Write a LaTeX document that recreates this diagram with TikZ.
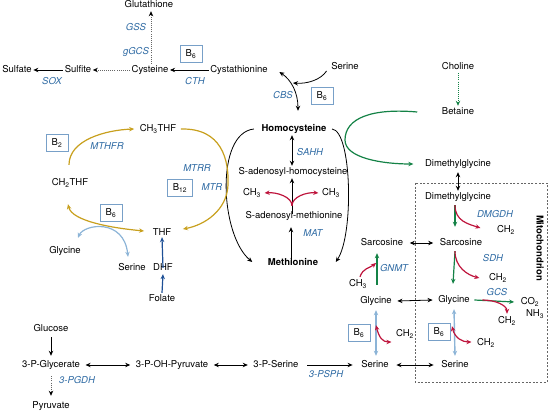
\documentclass[tikz,border=0pt]{standalone}
\usepackage{fontspec}
\setmainfont{TeX Gyre Heros}
\usetikzlibrary{arrows.meta}
\definecolor{enzc}{RGB}{46,106,163}
\definecolor{boxc}{RGB}{120,160,200}
\definecolor{goldc}{RGB}{200,160,30}
\definecolor{redc}{RGB}{190,20,60}
\definecolor{greenc}{RGB}{20,130,70}
\definecolor{lbluec}{RGB}{140,180,215}
\definecolor{dbluec}{RGB}{30,80,150}
\begin{document}
\begin{tikzpicture}[x=1pt,y=-1pt,
  every node/.style={font=\fontsize{9.5}{11}\selectfont, inner sep=1.5pt, text height=7pt, text depth=2pt},
  enz/.style={font=\fontsize{9.5}{11}\selectfont\itshape, text=enzc},
  bld/.style={font=\fontsize{9.5}{11}\selectfont\bfseries},
  bbox/.style={draw=boxc, line width=0.8pt, minimum width=22pt, minimum height=17pt, inner sep=0pt},
  arr/.style={-{Stealth[length=5pt,width=4.4pt]}, line width=0.8pt},
  darr/.style={{Stealth[length=5pt,width=4.4pt]}-{Stealth[length=5pt,width=4.4pt]}, line width=0.8pt},
  dotarr/.style={-{Stealth[length=5pt,width=4.4pt,color=black,line width=0.8pt]}, line width=0.8pt, draw=black!60, dash pattern=on 0.8pt off 1.3pt},
  col/.style={line width=1.2pt}
]
\useasboundingbox (0,0) rectangle (550,412);

% ---------- top left ----------
\node (glut) at (149,5) {Glutathione};
\node[enz] (gss) at (136,28) {GSS};
\node[enz] (ggcs) at (136,52) {gGCS};
\node (sulfate) at (17,70) {Sulfate};
\node (sulfite) at (78,70) {Sulfite};
\node[enz] (sox) at (52,82) {SOX};
\node (cys) at (150,70) {Cysteine};
\node[bbox] (b6a) at (191,54) {B\textsubscript{6}};
\node[enz] (cth) at (195,82) {CTH};
\node (cysta) at (239,70) {Cystathionine};
\node (sertop) at (345,67) {Serine};
\node[enz] (cbs) at (283,96) {CBS};
\node[bbox] (b6b) at (322,96) {B\textsubscript{6}};
\node[bld] (hcy) at (294,129) {Homocysteine};
\coordinate (cbsj) at (293,83);

\draw[dotarr] ([xshift=1pt]cys.north) -- ([xshift=2pt]glut.south);
\draw[arr] (sulfite.west) -- (sulfate.east);
\draw[dotarr] (cys.west) -- (sulfite.east);
\draw[arr] (cysta.west) -- (cys.east);
\draw[darr] ([xshift=10pt,yshift=-2pt]cysta.east) .. controls +(12,8) and +(0,-18) .. ([xshift=4pt,yshift=12pt]hcy.north);
\draw[arr] ([xshift=-3pt,yshift=-4pt]sertop.west) .. controls +(-6,9) and +(14,1) .. (cbsj);

% ---------- choline / betaine ----------
\node (choline) at (458,67) {Choline};
\node (betaine) at (458,112) {Betaine};
\node (dmg1) at (458,164) {Dimethylglycine};
\draw[dotarr,draw=greenc,-{Stealth[length=5pt,width=4.4pt,color=greenc]}] (choline.south) -- (betaine.north);
\draw[arr,greenc,col] ([xshift=-23pt]betaine.west) .. controls (372,108) and (345,118) .. (345,140)
  .. controls (345,158) and (382,164) .. ([xshift=-10pt]dmg1.west);

% ---------- methionine cycle ----------
\node[enz] (sahh) at (310,153) {SAHH};
\node (sah) at (293,172) {S-adenosyl-homocysteine};
\node (ch3l) at (252,193) {CH\textsubscript{3}};
\node (ch3r) at (331,193) {CH\textsubscript{3}};
\node (sam) at (294,216) {S-adenosyl-methionine};
\node[enz] (mat) at (313,234) {MAT};
\node[bld] (met) at (293,263) {Methionine};

\draw[darr] ([xshift=-2pt]hcy.south) -- ([xshift=-1pt]sah.north);
\draw[arr] ([xshift=-2pt,yshift=-4pt]sam.north) -- ([xshift=-1pt]sah.south);
\draw[arr,redc,col] ([xshift=-2pt,yshift=4pt]sam.north) .. controls +(0,-9) and +(12,-1) .. ([xshift=2pt]ch3l.east);
\draw[arr,redc,col] ([xshift=-2pt,yshift=4pt]sam.north) .. controls +(0,-9) and +(-12,-1) .. ([xshift=-2pt]ch3r.west);
\draw[arr] ([xshift=-2pt,yshift=-6pt]met.north) -- ([xshift=-3pt,yshift=-5pt]sam.south);
\draw[arr] ([xshift=-6pt]hcy.west) .. controls (215,133) and (220,235) .. ([xshift=-14pt,yshift=1pt]met.west);
\draw[arr] ([xshift=4pt]hcy.east) .. controls (352,131) and (354,235) .. ([xshift=16pt,yshift=1pt]met.east);

% ---------- folate cycle ----------
\node (ch3thf) at (158,129) {CH\textsubscript{3}THF};
\node[bbox] (b2) at (57,143) {B\textsubscript{2}};
\node[enz] (mthfr) at (107,147) {MTHFR};
\node (ch2thf) at (70,183) {CH\textsubscript{2}THF};
\node[enz] (mtrr) at (197,169) {MTRR};
\node[bbox, minimum width=25pt] (b12) at (180,188) {B\textsubscript{12}};
\node[enz] (mtr) at (212,188) {MTR};
\node[bbox] (b6c) at (111,213) {B\textsubscript{6}};
\node (thf) at (162,233) {THF};
\node (glyl) at (65,251) {Glycine};
\node (serl) at (132,268) {Serine};
\node (dhf) at (163,268) {DHF};
\node (folate) at (162,299) {Folate};

\draw[arr,goldc,col] ([xshift=-1pt,yshift=12pt]ch2thf.north) .. controls +(0,-25) and +(-28,1) .. ([xshift=-4pt]ch3thf.west);
\draw[arr,goldc,col] ([xshift=3pt]ch3thf.east) .. controls (222,128) and (229,160) .. (228,185)
  .. controls (227,210) and (205,225) .. ([xshift=10pt,yshift=4pt]thf.east);
\draw[darr,goldc,col] ([xshift=-2pt,yshift=-15pt]ch2thf.south) .. controls +(4,17) and +(-32,-3) .. ([xshift=-7pt,yshift=2pt]thf.west);
\draw[darr,lbluec,col] ([xshift=13pt,yshift=7pt]glyl.north) .. controls (84,224) and (124,218) .. ([xshift=-4pt,yshift=5pt]serl.north);
\draw[arr,dbluec,col] ([yshift=-6pt]dhf.north) -- ([yshift=2pt]thf.south);
\draw[arr,dbluec,col] (folate.north) -- (dhf.south);

% ---------- mitochondrion ----------
\draw[gray!80!black, line width=0.8pt, dash pattern=on 2pt off 1.6pt] (415,183) rectangle (547,382);
\node[bld, rotate=-90] (mito) at (539,248) {Mitochondrion};

\node (dmg2) at (458,197) {Dimethylglycine};
\node[enz] (dmgdh) at (495,215) {DMGDH};
\node (ch2a) at (506,230) {CH\textsubscript{2}};
\node (sarcin) at (461,243) {Sarcosine};
\node (sarcout) at (382,243) {Sarcosine};
\node[enz] (sdh) at (493,259) {SDH};
\node (ch2b) at (498,278) {CH\textsubscript{2}};
\node[enz] (gnmt) at (394,269) {GNMT};
\node (ch3g) at (358,284) {CH\textsubscript{3}};
\node (glyout) at (376,301) {Glycine};
\node (glyin) at (454,300) {Glycine};
\node[enz] (gcs) at (497,293) {GCS};
\node (co2) at (530,302) {CO\textsubscript{2}};
\node (nh3) at (535,314) {NH\textsubscript{3}};
\node (ch2c) at (507,321) {CH\textsubscript{2}};
\node[bbox] (b6d) at (359,333) {B\textsubscript{6}};
\node[bbox] (b6e) at (439,332) {B\textsubscript{6}};
\node (ch2d) at (405,334) {CH\textsubscript{2}};
\node (ch2e) at (486,343) {CH\textsubscript{2}};
\node (serout) at (375,365) {Serine};
\node (serin) at (455,365) {Serine};
\coordinate (gnmtj) at (376,263);

\draw[darr] ([yshift=-2pt]dmg1.south) -- (dmg2.north);
\draw[arr,greenc,col] ([xshift=-3pt,yshift=-2pt]dmg2.south) -- ([xshift=-6pt,yshift=10pt]sarcin.north);
\draw[arr,redc,col] ([xshift=-3pt,yshift=-2pt]dmg2.south) .. controls +(0,16) and +(-12,-4) .. ([xshift=-15pt,yshift=2pt]ch2a.west);
\draw[arr,greenc,col] ([xshift=-6pt,yshift=-2pt]sarcin.south) -- ([xshift=-1pt,yshift=10pt]glyin.north);
\draw[arr,redc,col] ([xshift=-6pt,yshift=-2pt]sarcin.south) .. controls +(0,16) and +(-12,-3) .. ([xshift=-8pt,yshift=0pt]ch2b.west);
\draw[darr] ([xshift=5pt]sarcout.east) -- ([xshift=-5pt]sarcin.west);
\draw[darr] ([xshift=4pt]glyout.east) -- ([xshift=-4pt]glyin.west);
\draw[arr,greenc,col] ([xshift=3pt]glyin.east) -- ([xshift=-5pt]co2.west);
\draw[arr,redc,col] ([xshift=11pt]glyin.east) .. controls +(14,0) and +(0,-8) .. ([yshift=1pt]ch2c.north);
\draw[arr,greenc,col] ([xshift=1pt,yshift=10pt]glyout.north) -- ([xshift=-5pt,yshift=-4pt]sarcout.south);
\draw[arr,redc,col] ([xshift=2pt,yshift=1pt]ch3g.north) .. controls +(3,-9) and +(-6,5) .. (gnmtj);

\draw[darr,lbluec,line width=1.4pt] ([yshift=-3pt]glyout.south) -- ([xshift=1pt,yshift=3pt]serout.north);
\draw[darr,lbluec,line width=1.4pt] ([yshift=-3pt]glyin.south) -- ([xshift=0pt,yshift=3pt]serin.north);
\draw[darr,redc,col] ([xshift=0pt,yshift=-18pt]glyout.south) .. controls +(3,12) and +(-9,0) .. ([xshift=-3pt,yshift=-8pt]ch2d.west);
\draw[darr,redc,col] ([xshift=-2pt,yshift=-20pt]glyin.south) .. controls +(3,12) and +(-9,0) .. ([xshift=-4pt,yshift=1pt]ch2e.west);
\draw[darr] ([xshift=6pt]serout.east) -- ([xshift=-6pt]serin.west);

% ---------- glycolysis branch ----------
\node (glucose) at (51,329) {Glucose};
\node (pgly) at (51,365) {3-P-Glycerate};
\node (pohp) at (172,365) {3-P-OH-Pyruvate};
\node (pser) at (276,365) {3-P-Serine};
\node[enz] (pgdh) at (77,381) {3-PGDH};
\node[enz] (psph) at (326,375) {3-PSPH};
\node (pyr) at (51,406) {Pyruvate};

\draw[arr] ([yshift=-2pt]glucose.south) -- ([yshift=3pt]pgly.north);
\draw[dotarr] ([yshift=-5pt]pgly.south) -- ([yshift=4pt]pyr.north);
\draw[darr] ([xshift=4pt]pgly.east) -- ([xshift=-4pt]pohp.west);
\draw[darr] ([xshift=4pt]pohp.east) -- ([xshift=-4pt]pser.west);
\draw[arr] ([xshift=7pt]pser.east) -- ([xshift=-7pt]serout.west);
\end{tikzpicture}
\end{document}
